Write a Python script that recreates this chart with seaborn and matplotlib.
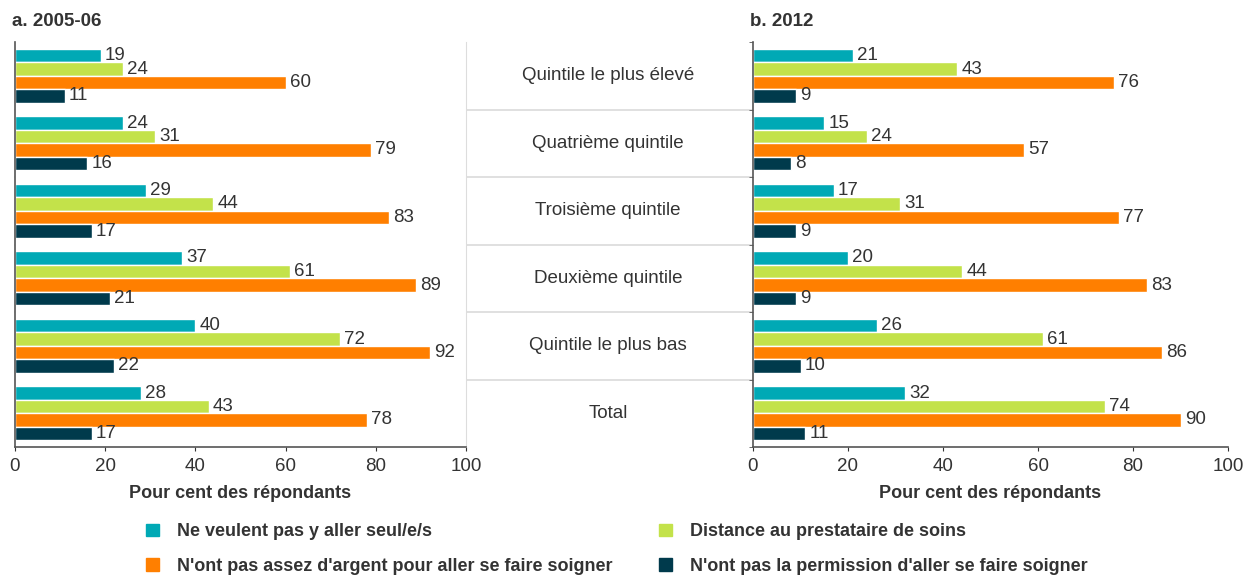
import pandas as pd
import numpy as np
import matplotlib
matplotlib.use("Agg")
import matplotlib.pyplot as plt
import seaborn as sns
from matplotlib.lines import Line2D
from matplotlib.patches import Patch
from matplotlib.transforms import blended_transform_factory

# données
quintiles = ["Quintile le plus élevé", "Quatrième quintile", "Troisième quintile",
             "Deuxième quintile", "Quintile le plus bas", "Total"]
raisons = ["Ne veulent pas y aller seul/e/s",
           "Distance au prestataire de soins",
           "N'ont pas assez d'argent pour aller se faire soigner",
           "N'ont pas la permission d'aller se faire soigner"]
couleurs = ["#00A9B5", "#C3E24A", "#FF7F00", "#003A4C"]

seul_2005 = [19, 24, 29, 37, 40, 28]
distance_2005 = [24, 31, 44, 61, 72, 43]
argent_2005 = [60, 79, 83, 89, 92, 78]
permission_2005 = [11, 16, 17, 21, 22, 17]

seul_2012 = [21, 15, 17, 20, 26, 32]
distance_2012 = [43, 24, 31, 44, 61, 74]
argent_2012 = [76, 57, 77, 83, 86, 90]
permission_2012 = [9, 8, 9, 9, 10, 11]


def to_long(series):
    rows = []
    for r, vals in zip(raisons, series):
        for q, v in zip(quintiles, vals):
            rows.append({"quintile": q, "raison": r, "valeur": v})
    return pd.DataFrame(rows)


df_a = to_long([seul_2005, distance_2005, argent_2005, permission_2005])
df_b = to_long([seul_2012, distance_2012, argent_2012, permission_2012])

sns.set_style("white")
plt.rcParams["font.family"] = ["Liberation Sans", "DejaVu Sans"]
texte = "#333333"

W, H = 1245, 578
fig = plt.figure(figsize=(W / 100, H / 100), dpi=100)
bas = 1 - 447 / H
haut = (447 - 42) / H
ax1 = fig.add_axes([15 / W, bas, 451 / W, haut])
ax2 = fig.add_axes([753 / W, bas, 475 / W, haut])

for ax, df, titre, xt in [(ax1, df_a, "a. 2005-06", 12), (ax2, df_b, "b. 2012", 750)]:
    sns.barplot(data=df, y="quintile", x="valeur", hue="raison", orient="h",
                palette=couleurs, hue_order=raisons, order=quintiles,
                width=0.8, ax=ax, legend=False, saturation=1)
    for c in ax.containers:
        ax.bar_label(c, padding=3, fontsize=13.5, color=texte)
    ax.set_xlim(0, 100)
    ax.set_ylim(5.5, -0.5)
    ax.set_xticks(range(0, 101, 20))
    ax.tick_params(axis="x", labelsize=13.5, colors=texte, length=3, direction="out",
                   bottom=True, pad=5)
    ax.set_yticks([])
    ax.set_ylabel("")
    ax.set_xlabel("Pour cent des répondants", fontsize=13, fontweight="bold",
                  color=texte, labelpad=7)
    ax.spines["top"].set_visible(False)
    ax.spines["left"].set_color("#555555")
    ax.spines["bottom"].set_color("#555555")
    ax.spines["left"].set_linewidth(1.2)
    ax.spines["bottom"].set_linewidth(1.2)
    fig.text(xt / W, 1 - 22 / H, titre, fontsize=13.5, fontweight="bold",
             color=texte, ha="left", va="center")

ax2.set_yticks(np.arange(-0.5, 6, 1), minor=True)
ax2.tick_params(axis="y", which="minor", length=3, left=True, color="#555555")

ax1.spines["right"].set_color("#dddddd")
ax2.spines["right"].set_visible(False)

# séparateurs horizontaux sur toute la largeur
tr = blended_transform_factory(fig.transFigure, ax1.transData)
for y in np.arange(0.5, 5, 1):
    fig.add_artist(Line2D([15 / W, 1227 / W], [y, y], transform=tr,
                          color="#dddddd", lw=1.3, zorder=0))

# étiquettes des quintiles au centre
for i, q in enumerate(quintiles):
    fig.text(608 / W, i, q, transform=tr, fontsize=13.5, color=texte,
             ha="center", va="center")

handles = [Patch(color=couleurs[i]) for i in [0, 2, 1, 3]]
labels = [raisons[i] for i in [0, 2, 1, 3]]
leg = fig.legend(handles, labels, ncol=2, loc="center left",
                 bbox_to_anchor=(130 / W, 1 - 549 / H), frameon=False,
                 handlelength=0.7, handleheight=0.7, handletextpad=1.0,
                 columnspacing=2.6, labelspacing=0.95,
                 prop={"size": 13, "weight": "bold"})
for t in leg.get_texts():
    t.set_color(texte)

fig.savefig("out.png", dpi=100)
